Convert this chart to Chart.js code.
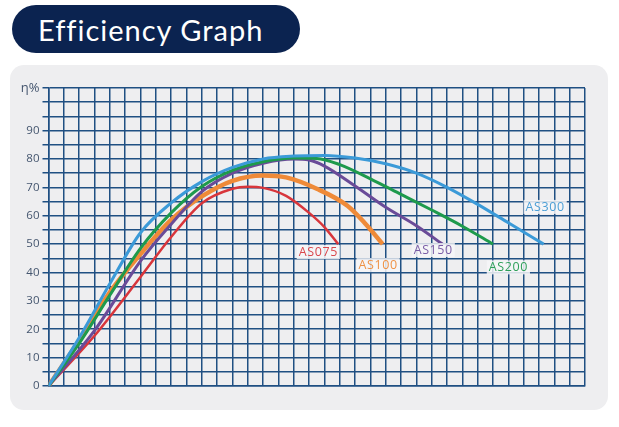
<!DOCTYPE html>
<html>
<head>
<meta charset="utf-8">
<script src="https://cdn.jsdelivr.net/npm/chart.js@4"></script>
<style>
  html, body { margin: 0; padding: 0; background: #ffffff; }
  body { width: 619px; height: 427px; position: relative; overflow: hidden; font-family: "Open Sans", sans-serif; }
  .pill {
    position: absolute; left: 12px; top: 5px; width: 288px; height: 48px;
    background: #0b2350; border-radius: 24px;
    color: #ffffff; font-family: Lato, sans-serif; font-size: 29px; line-height: 50px;
    padding-left: 26px; box-sizing: border-box; letter-spacing: 1px;
  }
  .panel {
    position: absolute; left: 10px; top: 65px; width: 598px; height: 345px;
    background: #eeeef0; border-radius: 14px;
  }
  #wrap { position: absolute; left: 0; top: 0; width: 619px; height: 427px; }
</style>
</head>
<body>
<div class="pill">Efficiency Graph</div>
<div class="panel"></div>
<div id="wrap"><canvas id="chartEff"></canvas></div>

<script>
/* ── DATA (x in grid units, y in %) ── */

const seriesNames = ['AS075', 'AS100', 'AS150', 'AS200', 'AS300'];

const xAS075 = [0, 3, 6, 8, 10, 12, 13, 14, 15.5, 17, 18, 18.9];
const yAS075 = [0, 17.7, 38.4, 52.5, 64.4, 69.5, 70.2, 69.8, 67, 61, 56, 50];

const xAS100 = [0, 2, 4, 6, 8, 10, 12, 14, 15.5, 17.5, 19.5, 20.7, 21.8];
const yAS100 = [0, 16, 33, 46.5, 58.5, 66.8, 72.3, 74.2, 73.5, 69.5, 63.5, 57, 50];

const xAS150 = [0, 3, 6, 8, 10, 12, 14, 16, 17, 18, 20, 22, 24, 25.7];
const yAS150 = [0, 19.5, 44, 57, 68.5, 75, 78.5, 80, 79.6, 77.5, 70.5, 63, 56.5, 50];

const xAS200 = [0, 2, 4, 6, 8, 10, 12, 14, 16, 17.5, 19, 21, 23, 25, 27, 29];
const yAS200 = [0, 15, 32, 48.5, 61, 70.3, 76, 79, 80.3, 80.2, 78, 73, 67.5, 62, 56.3, 50];

const xAS300 = [0, 2, 4, 6, 8, 10, 12, 14, 16, 18, 20, 22, 24, 26, 28, 30, 32.3];
const yAS300 = [0, 17, 36, 54, 64.5, 72, 77, 80, 81, 81.2, 80.3, 78.3, 75, 70, 64, 57.5, 50];

const yTickLabels = { 0: '0', 10: '10', 20: '20', 30: '30', 40: '40', 50: '50', 60: '60', 70: '70', 80: '80', 90: '90', 105: 'η%' };

/* ── STYLE ── */

const seriesColors = ['#d8353b', '#ef8a38', '#6a4b98', '#1e9a4c', '#3b9ad8'];
const labelColors  = ['#d9464b', '#ef9245', '#7a5da6', '#2fa05a', '#4c9fd6'];
const lineWidths   = [2.5, 4.5, 3, 3, 3];
const labelAnchor  = [[17.6, 47.2], [21.5, 42.6], [25.1, 47.9], [30.0, 41.8], [32.4, 63.1]];
const GRID = '#1f4f82';

function toPoints(xs, ys) {
  return xs.map((x, i) => ({ x: x, y: ys[i] }));
}

const allX = [xAS075, xAS100, xAS150, xAS200, xAS300];
const allY = [yAS075, yAS100, yAS150, yAS200, yAS300];

const datasets = seriesNames.map((name, i) => ({
  label: name,
  data: toPoints(allX[i], allY[i]),
  borderColor: seriesColors[i],
  borderWidth: lineWidths[i],
  pointRadius: 0,
  fill: false,
  cubicInterpolationMode: 'monotone',
  order: 4 - i
}));

/* ── CURVE LABELS ── */

const curveLabels = {
  id: 'curveLabels',
  afterDatasetsDraw(chart) {
    const { ctx, scales } = chart;
    ctx.save();
    ctx.font = '12.5px "Open Sans", sans-serif';
    ctx.letterSpacing = '0.6px';
    ctx.textAlign = 'center';
    ctx.textBaseline = 'middle';
    seriesNames.forEach((name, i) => {
      const px = scales.x.getPixelForValue(labelAnchor[i][0]);
      const py = scales.y.getPixelForValue(labelAnchor[i][1]);
      const w = ctx.measureText(name).width + 4;
      ctx.fillStyle = 'rgba(246,246,248,0.85)';
      ctx.fillRect(px - w / 2, py - 7, w, 14);
      ctx.fillStyle = labelColors[i];
      ctx.fillText(name, px, py + 0.5);
    });
    ctx.restore();
  }
};

new Chart(document.getElementById('chartEff'), {
  type: 'line',
  data: { datasets: datasets },
  options: {
    responsive: true,
    maintainAspectRatio: false,
    animation: false,
    layout: { padding: { top: 88, bottom: 41, left: 0, right: 34 } },
    plugins: { legend: { display: false }, tooltip: { enabled: false } },
    scales: {
      x: {
        type: 'linear',
        min: 0, max: 35,
        ticks: { display: false, stepSize: 1 },
        grid: { color: GRID, lineWidth: 1.5, drawTicks: false },
        border: { color: GRID, width: 1.5 },
        afterFit: s => { s.height = 0; }
      },
      y: {
        min: 0, max: 105,
        ticks: {
          stepSize: 5,
          autoSkip: false,
          color: '#45566f',
          padding: 3,
          font: c => ({ family: 'Open Sans', size: c.tick && c.tick.value === 105 ? 13 : 11.5 }),
          callback: v => yTickLabels[v] !== undefined ? yTickLabels[v] : ''
        },
        grid: { color: GRID, lineWidth: 1.5, tickLength: 6 },
        border: { color: GRID, width: 1.5 },
        afterFit: s => { s.width = 48.5; }
      }
    }
  },
  plugins: [curveLabels]
});
</script>
</body>
</html>
